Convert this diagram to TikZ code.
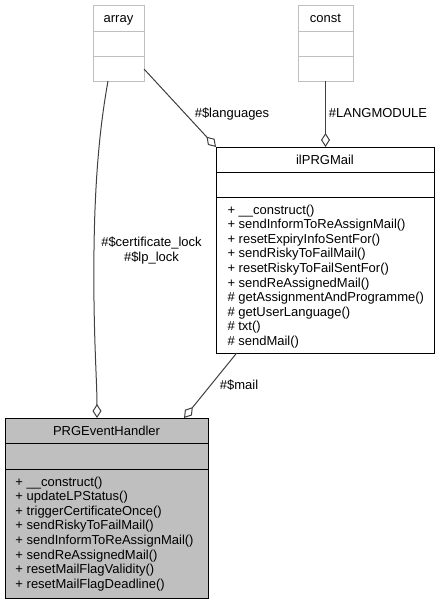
\documentclass[tikz,border=0pt]{standalone}
\usepackage{fontspec}
\setmainfont{Liberation Sans}
\usetikzlibrary{arrows.meta,calc}
\definecolor{edgegray}{HTML}{404040}
\definecolor{boxgray}{HTML}{BFBFBF}
\begin{document}
\begin{tikzpicture}[x=1pt,y=-1pt,
  umlbox/.style={draw=black,line width=1pt,inner sep=0pt,outer sep=0pt,anchor=north west},
  extbox/.style={umlbox,draw=boxgray,fill=white},
  sepline/.style={line width=1pt},
  extsep/.style={line width=1pt,draw=boxgray},
  txt/.style={inner sep=0pt,outer sep=0pt,font=\fontsize{13pt}{14.6pt}\selectfont},
  titletext/.style={txt,anchor=base},
  methodtext/.style={txt,anchor=north west,align=left},
  labeltext/.style={txt,anchor=base},
  assoc/.style={draw=edgegray,line width=1pt,-{Diamond[open,length=14pt,width=9pt]}}
]
\useasboundingbox (0,0) rectangle (440,603);

% array
\node[extbox,minimum width=51pt,minimum height=76pt] (array) at (93,5) {};
\draw[extsep] ($(array.north west)+(0,26)$) -- ($(array.north east)+(0,26)$);
\draw[extsep] ($(array.north west)+(0,51)$) -- ($(array.north east)+(0,51)$);
\node[titletext] (arraytitle) at ($(array.north)+(0,17.7)$) {array};

% const
\node[extbox,minimum width=55pt,minimum height=76pt] (const) at (298,5) {};
\draw[extsep] ($(const.north west)+(0,26)$) -- ($(const.north east)+(0,26)$);
\draw[extsep] ($(const.north west)+(0,51)$) -- ($(const.north east)+(0,51)$);
\node[titletext] (consttitle) at ($(const.north)+(0,17.7)$) {const};

% ilPRGMail
\node[umlbox,fill=white,minimum width=218pt,minimum height=206pt] (mail) at (216,147) {};
\draw[sepline] ($(mail.north west)+(0,25)$) -- ($(mail.north east)+(0,25)$);
\draw[sepline] ($(mail.north west)+(0,50)$) -- ($(mail.north east)+(0,50)$);
\node[titletext] (mailtitle) at ($(mail.north)+(0,17.2)$) {ilPRGMail};
\node[methodtext] (mailops) at ($(mail.north west)+(11.5,56.8)$) {\strut + \_\_construct()\\
+ sendInformToReAssignMail()\\
+ resetExpiryInfoSentFor()\\
+ sendRiskyToFailMail()\\
+ resetRiskyToFailSentFor()\\
+ sendReAssignedMail()\\
\# getAssignmentAndProgramme()\\
\# getUserLanguage()\\
\# txt()\\
\# sendMail()};

% PRGEventHandler
\node[umlbox,fill=boxgray,minimum width=203pt,minimum height=180pt] (peh) at (5,418) {};
\draw[sepline] ($(peh.north west)+(0,25)$) -- ($(peh.north east)+(0,25)$);
\draw[sepline] ($(peh.north west)+(0,51)$) -- ($(peh.north east)+(0,51)$);
\node[titletext] (pehtitle) at ($(peh.north)+(0,17.2)$) {PRGEventHandler};
\node[methodtext] (pehops) at ($(peh.north west)+(10.5,57.8)$) {\strut + \_\_construct()\\
+ updateLPStatus()\\
+ triggerCertificateOnce()\\
+ sendRiskyToFailMail()\\
+ sendInformToReAssignMail()\\
+ sendReAssignedMail()\\
+ resetMailFlagValidity()\\
+ resetMailFlagDeadline()};

% connectors
\draw[assoc] ([xshift=-10.5pt]array.south) .. controls (101,120) and (95,170) .. (94,250)
  .. controls (93,330) and (97,380) .. ([xshift=-9.5pt]peh.north);
\draw[assoc] ($(array.east)+(0,26)$) -- (mail.north west);
\draw[assoc] (const.south) -- (const.south |- mail.north);
\draw[assoc] ($(mail.south west)+(20.7,0)$) -- ([xshift=-24pt]peh.north east);

% labels
\node[txt,anchor=north,align=center] (locklabel) at (151.5,236.3) {\strut\#\$certificate\_lock\\\#\$lp\_lock};
\node[labeltext] (langlabel) at (232,117.7) {\#\$languages};
\node[labeltext] (modlabel) at (378,117.7) {\#LANGMODULE};
\node[labeltext] (maillabel) at (239,389.7) {\#\$mail};
\end{tikzpicture}
\end{document}
